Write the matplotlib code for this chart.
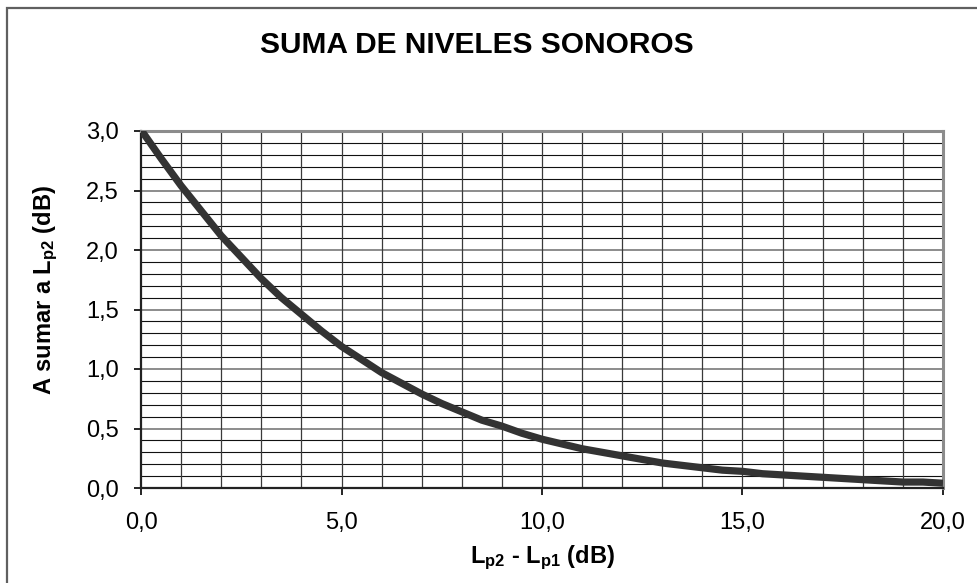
import matplotlib
matplotlib.use("Agg")
import matplotlib.pyplot as plt
from matplotlib.patches import Rectangle
from matplotlib.ticker import MultipleLocator, FuncFormatter

plt.rcParams['font.family'] = ['Liberation Sans', 'DejaVu Sans']
plt.rcParams['mathtext.fontset'] = 'custom'
plt.rcParams['mathtext.rm'] = 'Liberation Sans'
plt.rcParams['mathtext.bf'] = 'Liberation Sans:bold'

# Data
diff_db = [0.0, 0.5, 1.0, 1.5, 2.0, 2.5, 3.0, 3.5, 4.0, 4.5, 5.0, 5.5, 6.0, 6.5,
           7.0, 7.5, 8.0, 8.5, 9.0, 9.5, 10.0, 10.5, 11.0, 11.5, 12.0, 12.5,
           13.0, 13.5, 14.0, 14.5, 15.0, 15.5, 16.0, 16.5, 17.0, 17.5, 18.0,
           18.5, 19.0, 19.5, 20.0]
add_db = [3.01, 2.77, 2.54, 2.33, 2.12, 1.94, 1.76, 1.60, 1.46, 1.32, 1.19, 1.08,
          0.97, 0.88, 0.79, 0.71, 0.64, 0.57, 0.52, 0.46, 0.41, 0.37, 0.33, 0.30,
          0.27, 0.24, 0.21, 0.19, 0.17, 0.15, 0.14, 0.12, 0.11, 0.10, 0.09, 0.08,
          0.07, 0.06, 0.05, 0.05, 0.04]

title = "SUMA DE NIVELES SONOROS"
xlabel = r"$\mathbf{L_{p2}}$ - $\mathbf{L_{p1}}$ (dB)"
ylabel = r"A sumar a $\mathbf{L_{p2}}$ (dB)"

fig = plt.figure(figsize=(9.77, 5.83), dpi=100)
fig.patch.set_facecolor('white')

# outer chart-area border (cropped on right/bottom)
fig.patches.append(Rectangle((7/977, -0.05), 1.1, 1 - 8/583 + 0.05,
                             transform=fig.transFigure, fill=False,
                             edgecolor='#606060', linewidth=1.6))

ax = fig.add_axes([141/977, 1 - 488/583, (943 - 141)/977, (488 - 131)/583])
ax.set_xlim(0, 20)
ax.set_ylim(0, 3.0)

# gridlines
for yv in [i / 10 for i in range(1, 30)]:
    if abs(yv * 2 - round(yv * 2)) < 1e-6:
        ax.axhline(yv, color='#8c8c8c', linewidth=1.4, zorder=1)
    else:
        ax.axhline(yv, color='#111111', linewidth=0.8, zorder=1)
for xv in range(1, 20):
    ax.axvline(xv, color='#3a3a3a', linewidth=0.9, zorder=1)

ax.plot(diff_db, add_db, color='#333333', linewidth=5.2, solid_capstyle='butt',
        solid_joinstyle='round', zorder=3)

ax.xaxis.set_major_locator(MultipleLocator(5))
ax.yaxis.set_major_locator(MultipleLocator(0.5))
fmt = FuncFormatter(lambda v, p: f"{v:.1f}".replace('.', ','))
ax.xaxis.set_major_formatter(fmt)
ax.yaxis.set_major_formatter(fmt)
ax.tick_params(axis='both', direction='out', length=5, width=1.2, colors='black',
               labelsize=17)
ax.tick_params(axis='y', pad=11)
ax.tick_params(axis='x', pad=12)

for s in ['top', 'right']:
    ax.spines[s].set_color('#8c8c8c')
    ax.spines[s].set_linewidth(2.2)
for s in ['left', 'bottom']:
    ax.spines[s].set_color('#222222')
    ax.spines[s].set_linewidth(1.6)

fig.text(477/977, 1 - 45/583, title, fontsize=21.5, fontweight='bold',
         ha='center', va='center')
fig.text(542/977, 1 - 558/583, xlabel, fontsize=17, fontweight='bold',
         ha='center', va='center')
fig.text(46/977, 1 - 290/583, ylabel, fontsize=17, fontweight='bold',
         ha='center', va='center', rotation=90)

fig.savefig("out.png", dpi=100, facecolor='white')
